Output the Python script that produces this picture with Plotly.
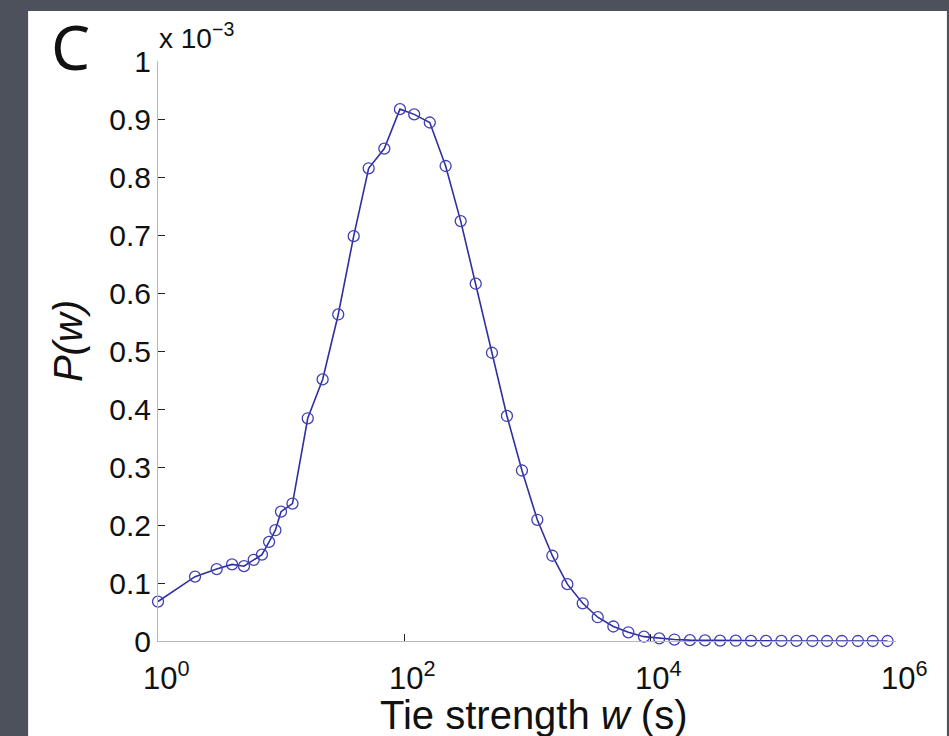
import plotly.graph_objects as go

# Tie strength bins (seconds) and probability density P(w), in units of 1e-3
w_values = [1, 2, 3, 4, 5, 6, 7, 8, 9, 10, 12.4, 16.5, 21.8, 29.2, 39, 51.6, 69.2,
            92.7, 121, 162, 218, 289, 383, 519, 687, 910, 1213, 1607, 2128, 2838,
            3758, 5035, 6668, 8933, 11900, 15800, 21100, 28000, 37100, 49800,
            66200, 87700, 117000, 155000, 209000, 275000, 363000, 490000, 647000,
            853000]
p_values = [0.068, 0.111, 0.124, 0.132, 0.129, 0.140, 0.149, 0.171, 0.191, 0.223,
            0.237, 0.384, 0.451, 0.563, 0.698, 0.815, 0.849, 0.917, 0.908, 0.894,
            0.819, 0.724, 0.616, 0.497, 0.388, 0.294, 0.209, 0.147, 0.098, 0.065,
            0.041, 0.025, 0.015, 0.0075, 0.0046, 0.0025, 0.0015, 0.0010, 0.0007,
            0.0005, 0.0003, 0.0002, 0.0001, 0.0001, 0.0, 0.0, 0.0, 0.0, 0.0, 0.0]

x_tick_vals = [1, 100, 10000, 1000000]
x_tick_exponents = [0, 2, 4, 6]
y_tick_vals = [0, 0.1, 0.2, 0.3, 0.4, 0.5, 0.6, 0.7, 0.8, 0.9, 1.0]
y_tick_text = ["0", "0.1", "0.2", "0.3", "0.4", "0.5", "0.6", "0.7", "0.8", "0.9", "1"]

FONT = "Liberation Sans, Arial, sans-serif"
INK = "#111111"

fig = go.Figure()
fig.add_trace(go.Scatter(
    x=w_values, y=p_values, mode="lines+markers",
    line=dict(color="#2f2fa0", width=1.6),
    marker=dict(symbol="circle-open", size=11, color="#4040b4",
                line=dict(width=1.3, color="#4040b4")),
    showlegend=False, cliponaxis=False,
))

# white figure panel over the dark slide background
fig.add_shape(type="rect", xref="paper", yref="paper",
              x0=-0.176, x1=1.069, y0=-0.164, y1=1.086,
              fillcolor="white", line=dict(width=0), layer="below")

# decade labels under the log axis, written as powers of ten
annotations = [
    dict(text=f"10<sup>{e}</sup>", xref="x", yref="paper", x=e, y=0,
         xanchor="center", yanchor="top", showarrow=False, xshift=8, yshift=-13,
         font=dict(size=31, family=FONT, color=INK))
    for v, e in zip(x_tick_vals, x_tick_exponents)
]
annotations += [
    dict(text="Tie strength <i>w</i> (s)", xref="paper", yref="paper",
         x=0.51, y=-0.128, xanchor="center", yanchor="middle", showarrow=False,
         font=dict(size=40, family=FONT, color=INK)),
    dict(text="<i>P(w)</i>", xref="paper", yref="paper", textangle=-90,
         x=-0.122, y=0.517, xanchor="center", yanchor="middle", showarrow=False,
         font=dict(size=40, family=FONT, color=INK)),
    dict(text="x 10<sup>−3</sup>", xref="paper", yref="paper", x=0.0, y=1.0,
         xanchor="left", yanchor="bottom", showarrow=False, xshift=-1, yshift=5,
         font=dict(size=28, family=FONT, color=INK)),
    dict(text="C", xref="paper", yref="paper", x=-0.119, y=1.026,
         xanchor="center", yanchor="middle", showarrow=False,
         font=dict(size=62, family="Noto Sans, sans-serif", color=INK)),
]

fig.update_layout(
    width=949, height=736,
    margin=dict(l=158, r=53, t=61, b=95),
    paper_bgcolor="#4c515c", plot_bgcolor="white",
    font=dict(family=FONT, color=INK),
    xaxis=dict(type="log", range=[0, 6], tickvals=x_tick_vals, showticklabels=False,
               ticks="inside", ticklen=7, tickcolor="#222222", tickwidth=1.2,
               showline=True, linecolor="#b8b8b8", linewidth=1,
               showgrid=False, zeroline=False),
    yaxis=dict(range=[0, 1], tickvals=y_tick_vals, ticktext=y_tick_text,
               ticks="inside", ticklen=7, tickcolor="#222222", tickwidth=1.2,
               showline=True, linecolor="#b8b8b8", linewidth=1,
               showgrid=False, zeroline=False,
               tickfont=dict(size=30, family=FONT, color=INK)),
    annotations=annotations,
)

fig.write_html("out.html")
